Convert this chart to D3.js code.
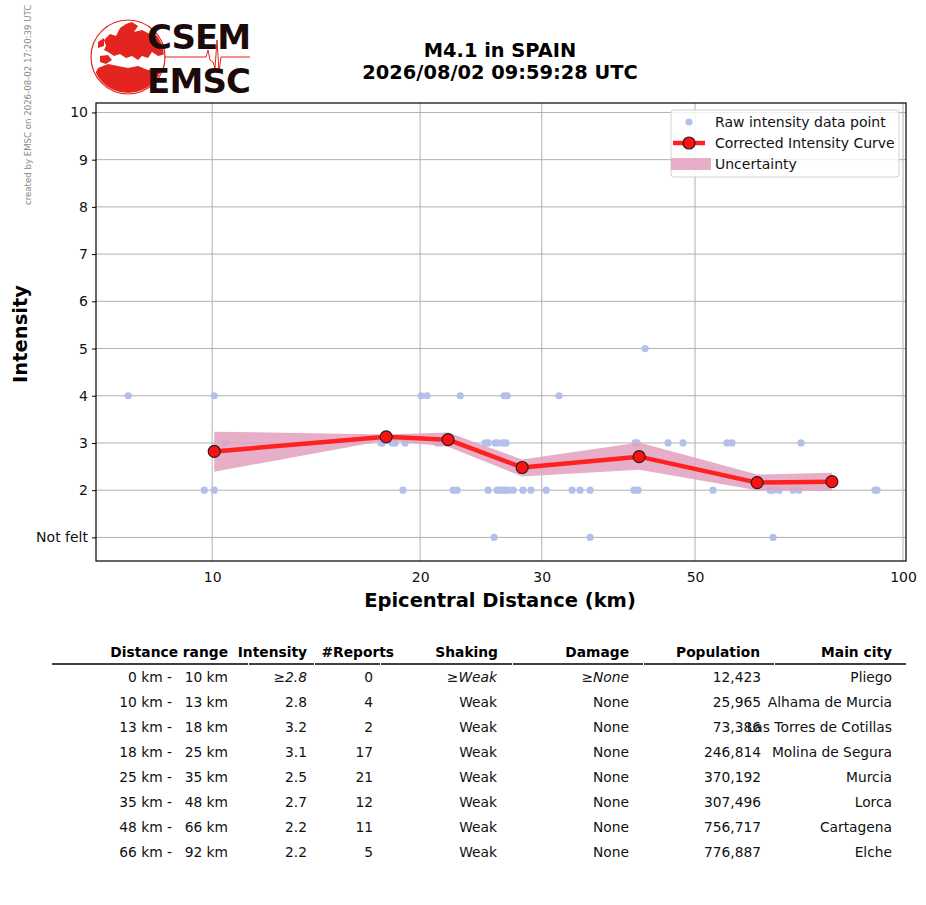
<!DOCTYPE html>
<html>
<head>
<meta charset="utf-8">
<script src="https://cdn.jsdelivr.net/npm/d3@7"></script>
<style>
  body { margin: 0; background: #fff; }
  svg { display: block; font-family: "DejaVu Sans", sans-serif; }
</style>
</head>
<body>
<svg id="chart" width="926" height="905"></svg>
<script>
// corrected intensity curve (distance km, intensity) + uncertainty band
const curveDist = [10.07, 17.86, 21.95, 28.1, 41.5, 61.5, 78.9];
const curveInt = [2.82, 3.13, 3.07, 2.48, 2.71, 2.16, 2.18];
const curveUpper = [3.24, 3.18, 3.22, 2.65, 3.01, 2.33, 2.37];
const curveLower = [2.39, 3.06, 2.92, 2.29, 2.43, 2.0, 1.99];

// raw reports
const rawDist = [
  42.34,
  7.56, 10.07, 20.07, 20.47, 22.86, 26.47, 26.73, 31.78,
  10.44, 17.56, 17.62, 18.22, 18.4, 19.02, 21.17, 21.38, 24.84, 25.09, 25.68, 25.94, 26.38, 26.64,
  40.94, 41.21, 45.71, 48.04, 55.63, 56.56, 71.18,
  9.74, 10.07, 18.89, 22.33, 22.63, 25.09, 25.85, 26.02, 26.29, 26.55, 26.82, 27.27, 28.18, 28.94,
  30.44, 33.19, 34.09, 35.24, 40.8, 41.35, 53.09, 64.2, 64.85, 66.16, 69.31, 70.71, 91.1, 91.7,
  25.59, 35.24, 64.85
];
const rawInt = [
  5,
  4, 4, 4, 4, 4, 4, 4, 4,
  3, 3, 3, 3, 3, 3, 3, 3, 3, 3, 3, 3, 3, 3,
  3, 3, 3, 3, 3, 3, 3,
  2, 2, 2, 2, 2, 2, 2, 2, 2, 2, 2, 2, 2, 2,
  2, 2, 2, 2, 2, 2, 2, 2, 2, 2, 2, 2, 2, 2,
  1, 1, 1
];

const xTicks = [10, 20, 30, 50, 100];
const yTicks = [1, 2, 3, 4, 5, 6, 7, 8, 9, 10];
const yTickLabels = ["Not felt", "2", "3", "4", "5", "6", "7", "8", "9", "10"];

// summary table
const tableHeaders = ["Distance range", "Intensity", "#Reports", "Shaking", "Damage", "Population", "Main city"];
const rangeFrom = [0, 10, 13, 18, 25, 35, 48, 66];
const rangeTo = [10, 13, 18, 25, 35, 48, 66, 92];
const tableIntensity = ["≥2.8", "2.8", "3.2", "3.1", "2.5", "2.7", "2.2", "2.2"];
const tableReports = [0, 4, 2, 17, 21, 12, 11, 5];
const tableShaking = ["≥Weak", "Weak", "Weak", "Weak", "Weak", "Weak", "Weak", "Weak"];
const tableDamage = ["≥None", "None", "None", "None", "None", "None", "None", "None"];
const tablePopulation = ["12,423", "25,965", "73,386", "246,814", "370,192", "307,496", "756,717", "776,887"];
const tableCity = ["Pliego", "Alhama de Murcia", "Las Torres de Cotillas", "Molina de Segura", "Murcia", "Lorca", "Cartagena", "Elche"];

const svg = d3.select("#chart");
const plot = { left: 96, right: 906, top: 103, bottom: 561 };

const x = d3.scaleLog().domain([6.79, 101]).range([plot.left, plot.right]);
const y = d3.scaleLinear().domain([0.5, 10.2]).range([plot.bottom, plot.top]);

// grid
const grid = svg.append("g").attr("stroke", "#b0b0b0").attr("stroke-width", 1);
grid.selectAll("line.gx").data(xTicks).join("line")
  .attr("x1", d => x(d)).attr("x2", d => x(d))
  .attr("y1", plot.top).attr("y2", plot.bottom);
grid.selectAll("line.gy").data(yTicks).join("line")
  .attr("x1", plot.left).attr("x2", plot.right)
  .attr("y1", d => y(d)).attr("y2", d => y(d));

// raw points
svg.append("g").attr("fill", "#b3c1ea")
  .selectAll("circle").data(rawDist).join("circle")
  .attr("cx", d => x(d))
  .attr("cy", (d, i) => y(rawInt[i]))
  .attr("r", 3.6);

// uncertainty band
const band = d3.area()
  .x((d, i) => x(curveDist[i]))
  .y0((d, i) => y(curveLower[i]))
  .y1((d, i) => y(curveUpper[i]));
svg.append("path").datum(curveDist)
  .attr("d", band)
  .attr("fill", "#e2a0bd").attr("opacity", 0.85);

// curve
const line = d3.line().x((d, i) => x(curveDist[i])).y((d, i) => y(curveInt[i]));
svg.append("path").datum(curveDist)
  .attr("d", line)
  .attr("fill", "none").attr("stroke", "#ff2020").attr("stroke-width", 4.5)
  .attr("stroke-linejoin", "round");
svg.append("g").selectAll("circle").data(curveDist).join("circle")
  .attr("cx", d => x(d)).attr("cy", (d, i) => y(curveInt[i]))
  .attr("r", 6).attr("fill", "#ff1010").attr("stroke", "#222").attr("stroke-width", 1.2);

// spines
svg.append("rect")
  .attr("x", plot.left).attr("y", plot.top)
  .attr("width", plot.right - plot.left).attr("height", plot.bottom - plot.top)
  .attr("fill", "none").attr("stroke", "#000").attr("stroke-width", 1.2);

// axes
const yAxis = d3.axisLeft(y).tickValues(yTicks)
  .tickFormat((d, i) => yTickLabels[i]).tickSize(4).tickPadding(4);
const yG = svg.append("g").attr("transform", `translate(${plot.left},0)`).call(yAxis);
yG.select(".domain").remove();
yG.selectAll("text").attr("font-size", 14).attr("font-family", "DejaVu Sans").attr("fill", "#111");

const xAxis = d3.axisBottom(x).tickValues(xTicks).tickFormat(d3.format("d")).tickSize(0).tickPadding(11);
const xG = svg.append("g").attr("transform", `translate(0,${plot.bottom})`).call(xAxis);
xG.select(".domain").remove();
xG.selectAll("text").attr("font-size", 14).attr("font-family", "DejaVu Sans").attr("fill", "#111");

// axis labels
svg.append("text").attr("x", 500).attr("y", 607).attr("text-anchor", "middle")
  .attr("font-size", 19.5).attr("font-weight", "bold").text("Epicentral Distance (km)");
svg.append("text").attr("transform", "translate(27,334) rotate(-90)").attr("text-anchor", "middle")
  .attr("font-size", 19.5).attr("font-weight", "bold").text("Intensity");

// title
svg.append("text").attr("x", 500).attr("y", 57).attr("text-anchor", "middle")
  .attr("font-size", 19.4).attr("font-weight", "bold").text("M4.1 in SPAIN");
svg.append("text").attr("x", 500).attr("y", 79).attr("text-anchor", "middle")
  .attr("font-size", 19.4).attr("font-weight", "bold").text("2026/08/02 09:59:28 UTC");

// created-by stamp
svg.append("text").attr("transform", "translate(31,205) rotate(-90)")
  .attr("font-size", 8.6).attr("fill", "#888").text("created by EMSC on 2026-08-02 17:20:39 UTC");

// logo
const logo = svg.append("g");
logo.append("clipPath").attr("id", "globe").append("circle").attr("cx", 128).attr("cy", 57).attr("r", 36);
const land = logo.append("g").attr("clip-path", "url(#globe)").attr("fill", "#e3241f");
land.append("path").attr("d",
  "M104,40 L110,34 L116,36 L120,28 L126,24 L132,22 L138,26 L134,32 L142,30 L150,34 L158,36 L166,40 L166,54 L158,56 L152,52 L148,58 L142,56 L138,60 L132,56 L126,58 L120,54 L114,56 L108,52 L104,50 L106,46 Z");
land.append("path").attr("d",
  "M100,56 L108,55 L112,60 L106,64 L100,62 Z");
land.append("path").attr("d",
  "M98,68 L108,64 L118,66 L128,68 L138,66 L148,70 L156,68 L162,74 L166,82 L158,96 L96,96 L92,80 Z");
land.append("path").attr("d", "M98,42 L104,38 L104,46 L98,48 Z");
logo.append("circle").attr("cx", 128).attr("cy", 57).attr("r", 37)
  .attr("fill", "none").attr("stroke", "#e3241f").attr("stroke-width", 1.2);
logo.append("path").attr("d",
  "M164,57 L206,57 L208,50 L210,60 L213,62 L215,68 L217,40 L219,72 L221,57 L250,57")
  .attr("fill", "none").attr("stroke", "#e3241f").attr("stroke-width", 1);
logo.append("text").attr("x", 147).attr("y", 49).attr("font-size", 34).attr("font-weight", "bold")
  .attr("fill", "#1c0a0a").attr("textLength", 104).text("CSEM");
logo.append("text").attr("x", 147).attr("y", 93).attr("font-size", 34).attr("font-weight", "bold")
  .attr("fill", "#1c0a0a").attr("textLength", 104).text("EMSC");

// legend
const lg = svg.append("g");
lg.append("rect").attr("x", 671).attr("y", 110).attr("width", 228).attr("height", 67).attr("rx", 3)
  .attr("fill", "#fff").attr("fill-opacity", 0.8).attr("stroke", "#d0d0d0");
lg.append("circle").attr("cx", 689).attr("cy", 122).attr("r", 3.6).attr("fill", "#b3c1ea");
lg.append("line").attr("x1", 673).attr("x2", 705).attr("y1", 143).attr("y2", 143)
  .attr("stroke", "#ff2020").attr("stroke-width", 4.5);
lg.append("circle").attr("cx", 689).attr("cy", 143).attr("r", 6).attr("fill", "#ff1010")
  .attr("stroke", "#222").attr("stroke-width", 1.2);
lg.append("rect").attr("x", 671).attr("y", 158).attr("width", 40).attr("height", 12)
  .attr("fill", "#e2a0bd").attr("opacity", 0.85);
["Raw intensity data point", "Corrected Intensity Curve", "Uncertainty"].forEach((t, i) => {
  lg.append("text").attr("x", 715).attr("y", 127 + i * 21).attr("font-size", 14).attr("fill", "#111").text(t);
});

// table
const colRight = [228, 307, 394, 498, 629, 760, 892];
const rowRight = [228, 307, 373, 497, 629, 761, 892];
const colBounds = [52, 248, 314, 380, 512, 643, 774, 906];
const tbl = svg.append("g").attr("font-size", 13.8).attr("fill", "#111");
tbl.selectAll("text.h").data(tableHeaders).join("text")
  .attr("x", (d, i) => colRight[i]).attr("y", 657).attr("text-anchor", "end")
  .attr("font-weight", "bold").attr("fill", "#000").text(d => d);
tbl.selectAll("line.sep").data(d3.range(colBounds.length - 1)).join("line")
  .attr("x1", i => colBounds[i] + (i ? 1 : 0)).attr("x2", i => colBounds[i + 1])
  .attr("y1", 664).attr("y2", 664).attr("stroke", "#000").attr("stroke-width", 1.3);

const rowY = i => 682 + i * 25;
const cells = [
  rangeFrom.map(d => d + " km -"),
  tableIntensity, tableReports.map(String), tableShaking, tableDamage, tablePopulation, tableCity
];
rangeTo.forEach((d, i) => {
  tbl.append("text").attr("x", 228).attr("y", rowY(i)).attr("text-anchor", "end").text(d + " km");
  tbl.append("text").attr("x", 172).attr("y", rowY(i)).attr("text-anchor", "end").text(cells[0][i]);
});
for (let c = 1; c < cells.length; c++) {
  cells[c].forEach((t, i) => {
    const italic = i === 0 && (c === 1 || c === 3 || c === 4);
    tbl.append("text").attr("x", rowRight[c]).attr("y", rowY(i)).attr("text-anchor", "end")
      .attr("font-style", italic ? "italic" : null).text(t);
  });
}
</script>
</body>
</html>
